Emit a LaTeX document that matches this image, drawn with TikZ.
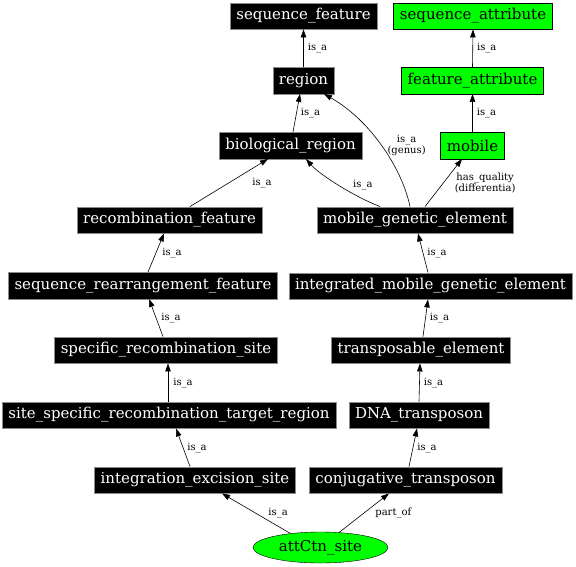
\documentclass[tikz,border=0pt]{standalone}
\usepackage{fontspec}
\setmainfont{DejaVu Serif}
\usetikzlibrary{arrows.meta,shapes.geometric}
\definecolor{TermGreen}{RGB}{0,255,0}
\tikzset{
  term/.style={rectangle,fill=black,draw=black!45,text=white,inner xsep=6.2pt,inner ysep=0pt,
    minimum height=26.5pt,font=\fontsize{15}{16}\selectfont},
  attr/.style={term,fill=TermGreen,draw=black,text=black},
  focus/.style={ellipse,fill=TermGreen,draw=black,minimum width=135pt,minimum height=31pt,
    inner sep=0pt,font=\fontsize{15}{16}\selectfont},
  rel/.style={draw=black,line width=0.6pt,-{Triangle[length=8pt,width=5.5pt]}},
  lab/.style={font=\fontsize{10}{10.5}\selectfont,inner sep=1pt,align=center},
}

\begin{document}
\begin{tikzpicture}[x=1pt,y=-1pt]
\useasboundingbox (0,0) rectangle (576,566);
% terms
\node[term] (sf) at (303.5,16) {sequence\_feature};
\node[attr] (sa) at (473,16) {sequence\_attribute};
\node[term] (rg) at (303.5,80.5) {region};
\node[attr] (fa) at (472.5,80.5) {feature\_attribute};
\node[term] (br) at (290.5,145.5) {biological\_region};
\node[attr] (mob) at (472.5,145.5) {mobile};
\node[term] (rf) at (169.5,220) {recombination\_feature};
\node[term] (mge) at (415,220) {mobile\_genetic\_element};
\node[term] (srf) at (143,285.5) {sequence\_rearrangement\_feature};
\node[term] (imge) at (430.5,286) {integrated\_mobile\_genetic\_element};
\node[term] (srs) at (166,350) {specific\_recombination\_site};
\node[term] (te) at (421,350) {transposable\_element};
\node[term] (ssr) at (169,415) {site\_specific\_recombination\_target\_region};
\node[term] (dna) at (419,415) {DNA\_transposon};
\node[term] (ies) at (195,480) {integration\_excision\_site};
\node[term] (ct) at (405.5,480) {conjugative\_transposon};
\node[focus] (att) at (320.5,547.5) {attCtn\_site};
% relations
\draw[rel] (rg.north) -- node[lab,right=3pt] {is\_a} (sf.south);
\draw[rel] (fa.north) -- node[lab,right=3pt] {is\_a} (sa.south);
\draw[rel] ([xshift=2.5pt]br.north) -- node[lab,right=3pt] {is\_a} ([xshift=-3.5pt]rg.south);
\draw[rel] (mob.north) -- node[lab,right=3pt] {is\_a} (fa.south);
\draw[rel] ([xshift=20.5pt]rf.north) -- node[lab,anchor=west,xshift=22pt] {is\_a} ([xshift=-22.5pt]br.south);
\draw[rel] ([xshift=-35pt]mge.north) .. controls (355,197) and (320,175) .. node[lab,anchor=west,xshift=13pt] {is\_a} ([xshift=15.5pt]br.south);
\draw[rel] ([xshift=-5pt]mge.north) .. controls (402,168) and (370,120) .. node[lab,anchor=west,xshift=5pt] {is\_a\\(genus)} ([xshift=20.5pt]rg.south);
\draw[rel] ([xshift=10pt]mge.north) -- node[lab,anchor=west,xshift=10pt] {has\_quality\\(differentia)} ([xshift=-10.5pt]mob.south);
\draw[rel] ([xshift=5pt]srf.north) -- node[lab,right=5pt] {is\_a} ([xshift=-5.5pt]rf.south);
\draw[rel] ([xshift=-3pt]srs.north) -- node[lab,right=4pt] {is\_a} ([xshift=6pt]srf.south);
\draw[rel] ([xshift=-1pt]ssr.north) -- node[lab,right=4pt] {is\_a} ([xshift=2pt]srs.south);
\draw[rel] ([xshift=-5pt]ies.north) -- node[lab,right=3pt] {is\_a} ([xshift=7pt]ssr.south);
\draw[rel] (att.155) -- node[lab,anchor=west,xshift=11pt] {is\_a} ([xshift=27pt]ies.south);
\draw[rel] (att.39) -- node[lab,anchor=west,xshift=10pt] {part\_of} ([xshift=-16.5pt]ct.south);
\draw[rel] ([xshift=3.5pt]ct.north) -- node[lab,right=3pt] {is\_a} ([xshift=-2pt]dna.south);
\draw[rel] (dna.north) -- node[lab,right=3pt] {is\_a} ([xshift=-1pt]te.south);
\draw[rel] ([xshift=2pt]te.north) -- node[lab,right=3pt] {is\_a} ([xshift=-2.5pt]imge.south);
\draw[rel] ([xshift=-2.5pt]imge.north) -- node[lab,right=3pt] {is\_a} ([xshift=3pt]mge.south);
\end{tikzpicture}
\end{document}
